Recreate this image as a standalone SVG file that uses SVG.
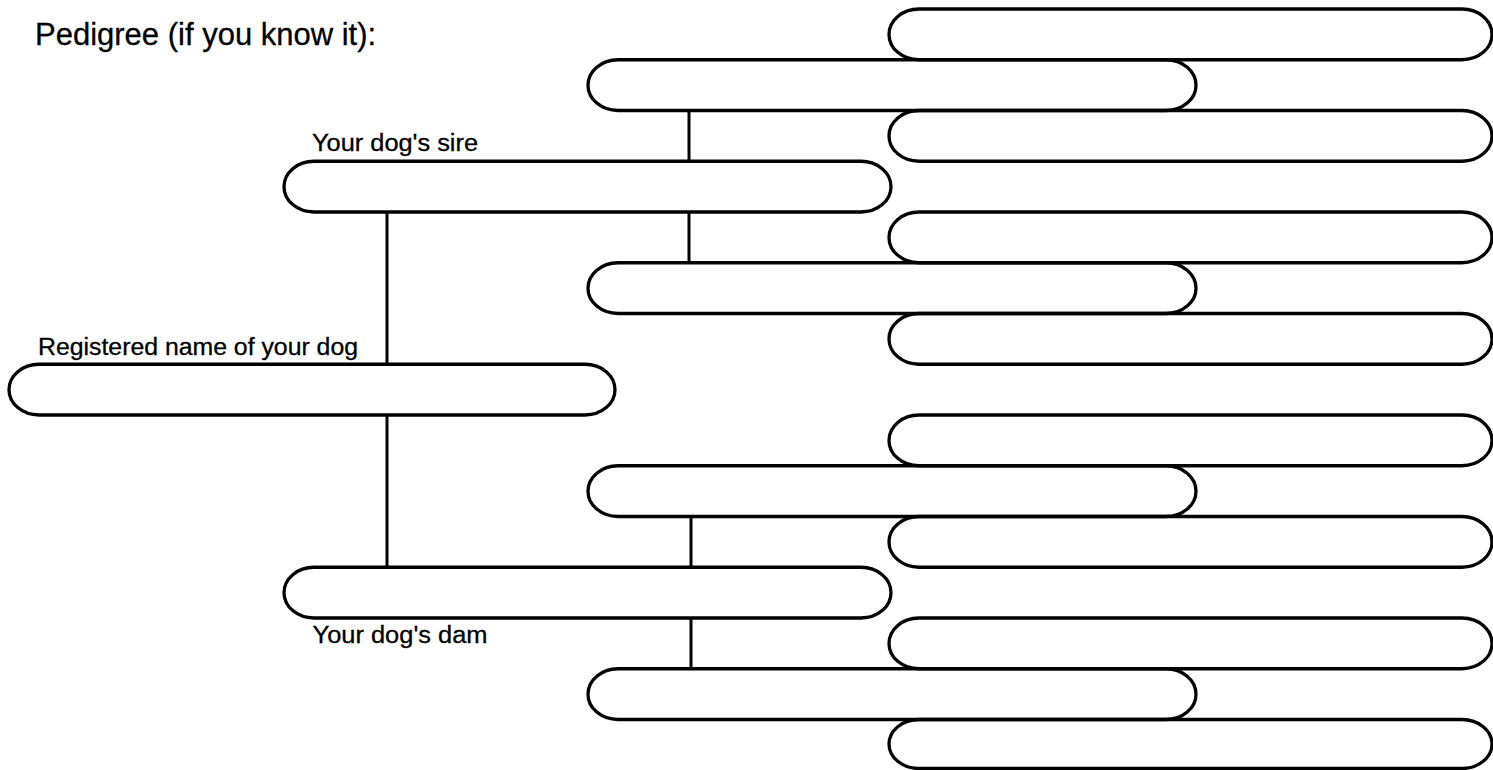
<svg xmlns="http://www.w3.org/2000/svg" width="1493" height="770" viewBox="0 0 1493 770">
<style>
.p{fill:none;stroke:#000;stroke-width:3.3}
.c{stroke:#000;stroke-width:3;fill:none}
.t{font-family:"Liberation Sans",Arial,sans-serif;fill:#000;stroke:#000;stroke-width:0.3}
.l{font-size:23px}
</style>
<rect width="1493" height="770" fill="#fff"/>
<text class="t" x="35" y="45" font-size="31">Pedigree (if you know it):</text>
<g id="connectors">
<line class="c" x1="689" y1="110.5" x2="689" y2="161.25"/>
<line class="c" x1="689" y1="212" x2="689" y2="262.75"/>
<line class="c" x1="387" y1="212" x2="387" y2="364.25"/>
<line class="c" x1="387" y1="415" x2="387" y2="567.25"/>
<line class="c" x1="691" y1="516.5" x2="691" y2="567.25"/>
<line class="c" x1="691" y1="618" x2="691" y2="668.75"/>
</g>
<g id="dog"><rect class="p" x="9" y="364.25" width="606" height="50.75" rx="30" ry="25.4"/><text class="t l" x="38" y="355" textLength="320" lengthAdjust="spacingAndGlyphs">Registered name of your dog</text></g>
<g id="sire"><rect class="p" x="284" y="161.25" width="607" height="50.75" rx="30" ry="25.4"/><text class="t l" x="312" y="151" textLength="166" lengthAdjust="spacingAndGlyphs">Your dog's sire</text></g>
<g id="dam"><rect class="p" x="284" y="567.25" width="607" height="50.75" rx="30" ry="25.4"/><text class="t l" x="312.5" y="643" textLength="175" lengthAdjust="spacingAndGlyphs">Your dog's dam</text></g>
<g id="gp1"><rect class="p" x="588" y="59.75" width="608" height="50.75" rx="30" ry="25.4"/></g>
<g id="gp2"><rect class="p" x="588" y="262.75" width="608" height="50.75" rx="30" ry="25.4"/></g>
<g id="gp3"><rect class="p" x="588" y="465.75" width="608" height="50.75" rx="30" ry="25.4"/></g>
<g id="gp4"><rect class="p" x="588" y="668.75" width="608" height="50.75" rx="30" ry="25.4"/></g>
<g id="ggp1"><rect class="p" x="889" y="9" width="603" height="50.75" rx="30" ry="25.4"/></g>
<g id="ggp2"><rect class="p" x="889" y="110.5" width="603" height="50.75" rx="30" ry="25.4"/></g>
<g id="ggp3"><rect class="p" x="889" y="212" width="603" height="50.75" rx="30" ry="25.4"/></g>
<g id="ggp4"><rect class="p" x="889" y="313.5" width="603" height="50.75" rx="30" ry="25.4"/></g>
<g id="ggp5"><rect class="p" x="889" y="415" width="603" height="50.75" rx="30" ry="25.4"/></g>
<g id="ggp6"><rect class="p" x="889" y="516.5" width="603" height="50.75" rx="30" ry="25.4"/></g>
<g id="ggp7"><rect class="p" x="889" y="618" width="603" height="50.75" rx="30" ry="25.4"/></g>
<g id="ggp8"><rect class="p" x="889" y="719.5" width="603" height="49" rx="30" ry="24.5"/></g>
</svg>
